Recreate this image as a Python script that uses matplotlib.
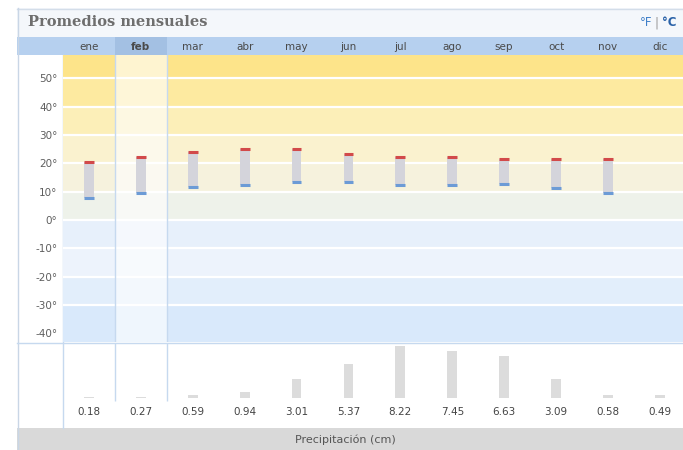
import matplotlib
matplotlib.use('Agg')
import matplotlib.pyplot as plt
from matplotlib.patches import Rectangle
import numpy as np

# ---------------- data ----------------
months = ['ene', 'feb', 'mar', 'abr', 'may', 'jun', 'jul', 'ago', 'sep', 'oct', 'nov', 'dic']
temp_high = [20.6, 22.4, 24.1, 25.1, 25.1, 23.3, 22.3, 22.1, 21.4, 21.4, 21.4, np.nan]
temp_low = [7.7, 9.6, 11.5, 12.4, 13.4, 13.4, 12.4, 12.4, 12.7, 11.4, 9.6, np.nan]
precip = [0.18, 0.27, 0.59, 0.94, 3.01, 5.37, 8.22, 7.45, 6.63, 3.09, 0.58, 0.49]
precip_labels = ['0.18', '0.27', '0.59', '0.94', '3.01', '5.37', '8.22', '7.45', '6.63', '3.09', '0.58', '0.49']
y_ticks = [50, 40, 30, 20, 10, 0, -10, -20, -30, -40]
y_tick_labels = ['50°', '40°', '30°', '20°', '10°', '0°', '-10°', '-20°', '-30°', '-40°']
band_edges = [58.3, 50, 40, 30, 20, 10, 0, -10, -20, -30, -43.1]
band_colors = ['#fde48a', '#fdeaa0', '#fcefb8', '#faf2cf', '#f6f2dd', '#eef2ea',
               '#e7f0fb', '#edf3fc', '#e2eefb', '#d9e9fb']
selected = 1
title = 'Promedios mensuales'
footer = 'Precipitación (cm)'

# ---------------- layout ----------------
W, H = 683, 450
fig = plt.figure(figsize=(W / 100, H / 100), dpi=100)


def px_rect(x0, y0, x1, y1):
    return [x0 / W, 1 - y1 / H, (x1 - x0) / W, (y1 - y0) / H]


COL0, COLW = 63, 51.9
xmax = -0.5 + (W - COL0) / COLW
x = np.arange(len(months))
bw = 0.19

bg = fig.add_axes([0, 0, 1, 1])
bg.set_xlim(0, W)
bg.set_ylim(H, 0)
bg.axis('off')
bg.add_patch(Rectangle((17, 8), W - 17, 29, fc='#f4f7fb', ec='none'))
bg.add_patch(Rectangle((17, 37), W - 17, 18, fc='#b6d0ef', ec='none'))
bg.add_patch(Rectangle((17, 55), COL0 - 17, 373, fc='white', ec='none'))
bg.add_patch(Rectangle((17, 342), W - 17, 86, fc='white', ec='none'))
bg.add_patch(Rectangle((17, 428), W - 17, 22, fc='#d9d9d9', ec='none'))
bg.plot([17, W], [8.5, 8.5], color='#d3dde9', lw=1)
bg.plot([17.5, 17.5], [8, H], color='#c9d6e6', lw=1)
bg.plot([COL0, COL0], [55, 428], color='#c6d9ef', lw=1)
bg.plot([17, W], [342.5, 342.5], color='#c6d9ef', lw=1)
bg.text(28, 22, title, fontsize=10.5, fontweight='bold', color='#6e6e6e',
        family='DejaVu Serif', va='center', ha='left')
bg.text(652, 23, '°F', fontsize=8.5, color='#3f7fc8', va='center', ha='right')
bg.text(657, 23, '|', fontsize=8.5, color='#999999', va='center', ha='center')
bg.text(662, 23, '°C', fontsize=8.5, color='#2a62a8', fontweight='bold', va='center', ha='left')
bg.text(345, 440, footer, fontsize=8, color='#555555', va='center', ha='center')

# header with months
hax = fig.add_axes(px_rect(COL0, 37, W, 55))
hax.set_xlim(-0.5, xmax)
hax.set_ylim(0, 1)
hax.axis('off')
hax.axvspan(selected - 0.5, selected + 0.5, color='#a3c0e3', lw=0)
for i, m in enumerate(months):
    hax.text(i, 0.45, m, fontsize=7.5, color='#4a4a4a', ha='center', va='center',
             fontweight='bold' if i == selected else 'normal')

# temperature panel
ax = fig.add_axes(px_rect(COL0, 55, W, 342))
ax.set_xlim(-0.5, xmax)
ax.set_ylim(band_edges[-1], band_edges[0])
for top, bot, c in zip(band_edges[:-1], band_edges[1:], band_colors):
    ax.axhspan(bot, top, color=c, lw=0, zorder=0)
for t in y_ticks[:-1]:
    ax.axhline(t, color='white', lw=1.6, zorder=1)
ax.axvspan(selected - 0.5, selected + 0.5, color='white', alpha=0.6, lw=0, zorder=1.5)
ax.axvline(selected - 0.5, color='#c6d9ef', lw=1, zorder=2)
ax.axvline(selected + 0.5, color='#c6d9ef', lw=1, zorder=2)
hi = np.array(temp_high)
lo = np.array(temp_low)
ax.bar(x, hi - lo, bottom=lo, width=bw, color='#d4d4db', lw=0, zorder=3)
ax.hlines(hi, x - bw / 2, x + bw / 2, color='#d24a4a', lw=2.2, zorder=4)
ax.hlines(lo, x - bw / 2, x + bw / 2, color='#6c9bd6', lw=2.2, zorder=4)
ax.set_yticks(y_ticks)
ax.set_yticklabels(y_tick_labels, fontsize=7.5, color='#5e5e5e')
ax.tick_params(axis='y', length=0, pad=4)
ax.set_xticks([])
for s in ax.spines.values():
    s.set_visible(False)

# precipitation panel
pax = fig.add_axes(px_rect(COL0, 343, W, 428))
pax.set_xlim(-0.5, xmax)
pax.set_ylim(-4.65, 8.68)
pax.axis('off')
pax.vlines([selected - 0.5, selected + 0.5], -0.35, 8.68, color='#c6d9ef', lw=1)
pax.bar(x, precip, width=bw, color='#dcdcdc', lw=0)
for i, lab in enumerate(precip_labels):
    pax.text(i, -2.2, lab, fontsize=7.5, color='#444444', ha='center', va='center')

fig.savefig('out.png', dpi=100)
